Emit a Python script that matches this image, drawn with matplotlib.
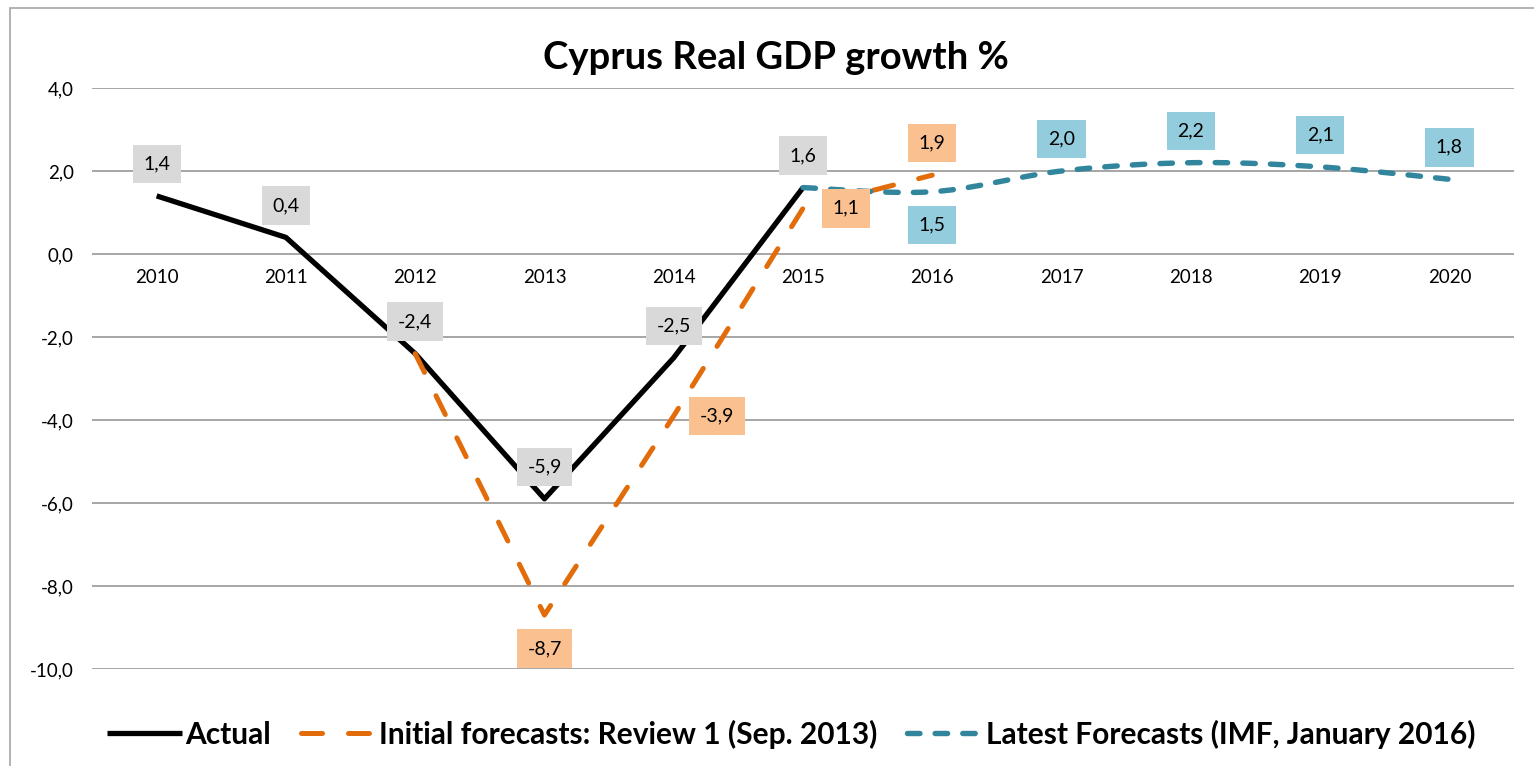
import numpy as np
import matplotlib
matplotlib.use('Agg')
import matplotlib.pyplot as plt
from matplotlib.patches import Rectangle

plt.rcParams['font.family'] = ['Lato', 'DejaVu Sans']

years = ['2010', '2011', '2012', '2013', '2014', '2015', '2016', '2017', '2018', '2019', '2020']
actual = [1.4, 0.4, -2.4, -5.9, -2.5, 1.6]
initial_idx = [2, 3, 4, 5, 6]
initial = [-2.4, -8.7, -3.9, 1.1, 1.9]
latest_idx = [5, 6, 7, 8, 9, 10]
latest = [1.6, 1.5, 2.0, 2.2, 2.1, 1.8]

# where each data label sits relative to its point
initial_lab = [None, 'below', 'right', 'right', 'above']
latest_lab = [None, 'below', 'above', 'above', 'above', 'above']


def smooth(x, y, n=30):
    # excel-style smoothed line (catmull-rom bezier)
    x = np.asarray(x, float)
    y = np.asarray(y, float)
    px = np.concatenate([[x[0]], x, [x[-1]]])
    py = np.concatenate([[y[0]], y, [y[-1]]])
    xs, ys = [], []
    t = np.linspace(0, 1, n)
    for i in range(1, len(px) - 2):
        p0 = np.array([px[i], py[i]])
        p3 = np.array([px[i + 1], py[i + 1]])
        p1 = p0 + (np.array([px[i + 1], py[i + 1]]) - np.array([px[i - 1], py[i - 1]])) / 6
        p2 = p3 - (np.array([px[i + 2], py[i + 2]]) - np.array([px[i], py[i]])) / 6
        b = ((1 - t) ** 3)[:, None] * p0 + (3 * (1 - t) ** 2 * t)[:, None] * p1 \
            + (3 * (1 - t) * t ** 2)[:, None] * p2 + (t ** 3)[:, None] * p3
        xs.extend(b[:, 0])
        ys.extend(b[:, 1])
    return xs, ys


def fmt(v):
    return f'{v:.1f}'.replace('.', ',')


fig = plt.figure(figsize=(15.34, 7.66), dpi=100)
fig.patches.append(Rectangle((10 / 1534, -0.01), 1.0, 1 - 8 / 766 + 0.01, transform=fig.transFigure,
                             fill=False, edgecolor='#a6a6a6', linewidth=1.2))
ax = fig.add_axes([92 / 1534, 1 - 669 / 766, (1514 - 92) / 1534, (669 - 88) / 766])

ax.set_xlim(-0.5, 10.5)
ax.set_ylim(-10, 4)
ax.set_yticks(np.arange(-10, 4.1, 2))
ax.set_yticklabels([fmt(v) for v in np.arange(-10, 4.1, 2)], fontsize=13.5)
ax.yaxis.grid(True, color='#a6a6a6', linewidth=1.4)
ax.set_axisbelow(True)
ax.tick_params(length=0, pad=13)
ax.set_xticks([])
for s in ax.spines.values():
    s.set_visible(False)
for i, yr in enumerate(years):
    ax.text(i, -0.36, yr, ha='center', va='top', fontsize=13.5, clip_on=False)

col_a, col_i, col_l = 'black', '#e36c0a', '#31859c'

xl, yl = smooth(latest_idx, latest)
ax.plot(range(len(actual)), actual, color=col_a, lw=3.8, solid_capstyle='butt', zorder=3,
        label='Actual')
ax.plot(initial_idx, initial, color=col_i, lw=3.6, ls=(0, (4.2, 5.2)), dash_capstyle='round',
        zorder=4, label='Initial forecasts: Review 1 (Sep. 2013)')
ax.plot(xl, yl, color=col_l, lw=3.9, ls=(0, (2.3, 2.8)), dash_capstyle='round', zorder=5,
        label='Latest Forecasts (IMF, January 2016)')

offsets = {'above': (0, 23, 'center'), 'below': (0, -24, 'center'), 'right': (31, 0, 'center')}


def label(x, y, where, fc):
    dx, dy, ha = offsets[where]
    ax.annotate(fmt(y), (x, y), xytext=(dx, dy), textcoords='offset points', ha=ha, va='center',
                fontsize=14, zorder=6,
                bbox=dict(boxstyle='square,pad=0.55', fc=fc, ec='none'))


for i, v in enumerate(actual):
    label(i, v, 'above', '#d9d9d9')
for i, v, w in zip(initial_idx, initial, initial_lab):
    if w:
        label(i, v, w, '#fac090')
for i, v, w in zip(latest_idx, latest, latest_lab):
    if w:
        label(i, v, w, '#93cddd')

fig.text(776 / 1534, 1 - 58 / 766, 'Cyprus Real GDP growth %', ha='center', va='center',
         fontsize=27.5, fontweight='bold')

fig.legend(loc='center', bbox_to_anchor=(791 / 1534, 1 - 734 / 766), ncol=3, frameon=False,
           prop={'size': 21.5, 'weight': 'bold'}, handlelength=2.5, handletextpad=0.12,
           columnspacing=1.0)

fig.savefig('out.png', dpi=100)
